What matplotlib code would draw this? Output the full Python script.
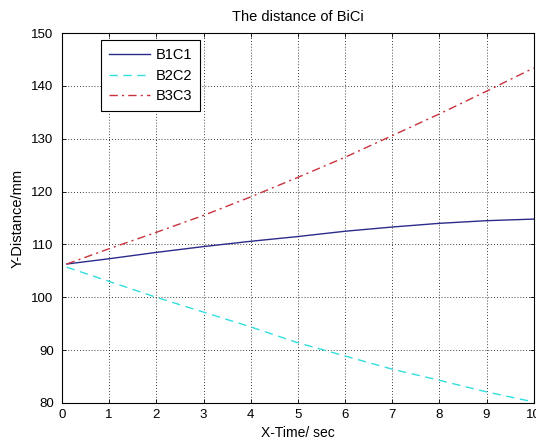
import matplotlib
matplotlib.use("Agg")
import matplotlib.pyplot as plt
import numpy as np

# values
t = [0.1, 1, 2, 3, 4, 5, 6, 7, 8, 9, 10]
b1c1 = [106.3, 107.3, 108.5, 109.6, 110.6, 111.5, 112.5, 113.3, 114.0, 114.5, 114.8]
b2c2 = [105.7, 103.0, 100.0, 97.2, 94.4, 91.4, 88.9, 86.4, 84.3, 82.1, 80.2]
b3c3 = [106.3, 109.2, 112.3, 115.5, 119.0, 122.7, 126.5, 130.6, 134.7, 139.0, 143.4]

plt.rcParams.update({
    'font.family': ['Liberation Sans', 'DejaVu Sans'],
    'font.size': 10,
})

fig = plt.figure(figsize=(5.36, 4.43), dpi=100)
ax = fig.add_axes([0.1157, 0.0903, 0.88, 0.835])

ax.plot(t, b1c1, color='#2b2b8c', linewidth=1.0, linestyle='-', label='B1C1')
ax.plot(t, b2c2, color='#33dede', linewidth=1.0, linestyle=(0, (6, 4)), label='B2C2')
ax.plot(t, b3c3, color='#c8323c', linewidth=1.0, linestyle=(0, (6, 3, 1.5, 3)), label='B3C3')

ax.set_xlim(0, 10)
ax.set_ylim(80, 150)
ax.set_xticks(np.arange(0, 11, 1))
ax.set_yticks(np.arange(80, 151, 10))
ax.tick_params(direction='in', top=True, right=True, length=3, width=0.6, labelsize=9.5)
ax.tick_params(axis='y', pad=6)
ax.tick_params(axis='x', pad=4)
ax.grid(True, color='black', linestyle=(0, (1, 2.5)), linewidth=0.6)
for s in ax.spines.values():
    s.set_linewidth(0.8)

ax.set_xlabel('X-Time/ sec', fontsize=10, labelpad=4)
ax.set_ylabel('Y-Distance/mm', fontsize=10.5, labelpad=5)
ax.set_title('The distance of BiCi', fontsize=10.5, pad=9)

leg = ax.legend(loc='upper left', bbox_to_anchor=(0.083, 0.981), borderaxespad=0,
                fancybox=False, edgecolor='black', framealpha=1, fontsize=10.5,
                handlelength=2.8, borderpad=0.55, labelspacing=0.45, handletextpad=0.4)
leg.get_frame().set_linewidth(0.8)

fig.savefig('out.png', dpi=100)
